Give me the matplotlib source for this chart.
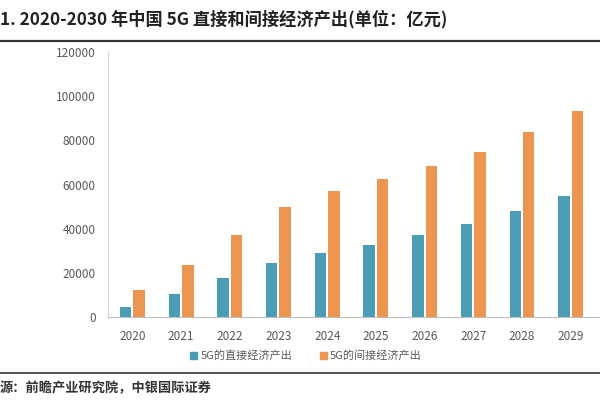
import matplotlib
matplotlib.use("Agg")
import matplotlib.pyplot as plt
from matplotlib.lines import Line2D
import numpy as np

plt.rcParams['font.family'] = ['Noto Sans CJK SC', 'DejaVu Sans']

# 数据（亿元）
years = ["2020", "2021", "2022", "2023", "2024", "2025", "2026", "2027", "2028", "2029"]
direct = [4600, 10200, 17800, 24400, 28900, 32400, 37200, 42100, 48100, 54800]
indirect = [12100, 23400, 37300, 49600, 57100, 62300, 68300, 74600, 83700, 93500]
yticks = [0, 20000, 40000, 60000, 80000, 100000, 120000]

title = "1. 2020-2030 年中国 5G 直接和间接经济产出(单位：亿元)"
legend_labels = ["5G的直接经济产出", "5G的间接经济产出"]
source = "源：前瞻产业研究院，中银国际证券"

blue = "#4a9db5"
orange = "#ec9550"
grey = "#595959"

fig = plt.figure(figsize=(6, 4), dpi=100)
# axes run past the right edge, as in the cropped original
ax = fig.add_axes([0.18, 0.2075, 0.893, 0.6625])

x = np.arange(len(years))
w = 0.235
ax.bar(x - 0.138, direct, width=w, color=blue)
ax.bar(x + 0.138, indirect, width=w, color=orange)

ax.set_xlim(-0.5, 10.5)
ax.set_ylim(0, 120000)
ax.set_yticks(yticks)
ax.set_yticklabels([str(v) for v in yticks], fontsize=8.5, color=grey)
ax.set_xticks(x)
ax.set_xticklabels(years, fontsize=8.5, color=grey)
ax.tick_params(axis="y", length=0, pad=9)
ax.tick_params(axis="x", length=0, pad=9)
for s in ["top", "right"]:
    ax.spines[s].set_visible(False)
ax.spines["left"].set_color("#d9d9d9")
ax.spines["bottom"].set_color("#bfbfbf")

# title and rules
fig.text(0.0, 0.952, title, fontsize=12.4, fontweight="bold", color="#222222",
         ha="left", va="center")
fig.add_artist(Line2D([0, 1], [0.898, 0.898], color="#333333", lw=1.6))
fig.add_artist(Line2D([0, 1], [0.068, 0.068], color="#333333", lw=1.2))

# legend
handles = [plt.Rectangle((0, 0), 1, 1, color=blue),
           plt.Rectangle((0, 0), 1, 1, color=orange)]
fig.legend(handles, legend_labels, loc="center", bbox_to_anchor=(0.51, 0.11),
           ncol=2, frameon=False, fontsize=8, labelcolor=grey,
           handlelength=0.6, handleheight=0.6, handletextpad=0.3, columnspacing=2.5)

fig.text(0.0, 0.03, source, fontsize=9.5, fontstyle="italic", fontweight="bold",
         color="#333333", ha="left", va="center")

fig.savefig("out.png", dpi=100)
